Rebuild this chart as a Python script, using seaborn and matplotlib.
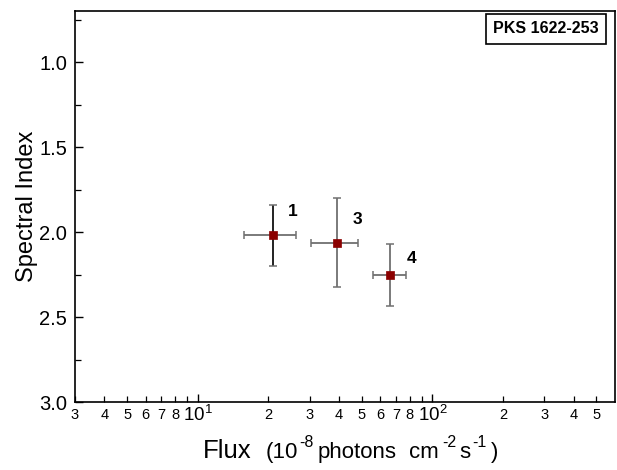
import matplotlib
matplotlib.use("Agg")
import matplotlib.pyplot as plt
import seaborn as sns
import numpy as np
import pandas as pd
from matplotlib.ticker import FixedLocator, FixedFormatter

# ---- data ----
labels = ["1", "3", "4"]
flux = [21.0, 39.2, 66.2]
flux_lo = [15.8, 30.4, 55.6]
flux_hi = [26.2, 48.0, 77.1]
index = [2.02, 2.063, 2.254]
index_lo = [1.84, 1.80, 2.072]
index_hi = [2.20, 2.325, 2.433]
source_name = "PKS 1622-253"
major_xticks = [10, 100]
major_xlabels = ["$10^{1}$", "$10^{2}$"]
minor_xticks = [3, 4, 5, 6, 7, 8, 9, 20, 30, 40, 50, 60, 70, 80, 90, 200, 300, 400, 500]
minor_xlabels = ["3", "4", "5", "6", "7", "8", "", "2", "3", "4", "5", "6", "7", "8", "", "2", "3", "4", "5"]
yticks = [1.0, 1.5, 2.0, 2.5, 3.0]
ytick_labels = ["1.0", "1.5", "2.0", "2.5", "3.0"]
yminor = [0.75, 1.25, 1.75, 2.25, 2.75]
ylabel = "Spectral Index"
# x label pieces: (text, is_superscript)
xlabel_pieces = [("Flux", False), ("(10", False), ("-8", True), ("photons", False),
                 ("cm", False), ("-2", True), ("s", False), ("-1", True), (")", False)]

df = pd.DataFrame({"flux": flux, "index": index, "label": labels})

sns.set_style("ticks")
plt.rcParams["font.family"] = ["Liberation Sans", "DejaVu Sans"]
plt.rcParams["mathtext.fontset"] = "custom"
plt.rcParams["mathtext.rm"] = "Liberation Sans"
plt.rcParams["mathtext.it"] = "Liberation Sans:italic"
plt.rcParams["mathtext.bf"] = "Liberation Sans:bold"
plt.rcParams["mathtext.default"] = "regular"
for k in ["text.color", "axes.labelcolor", "xtick.color", "ytick.color", "axes.edgecolor"]:
    plt.rcParams[k] = "black"

W, H = 617, 470
fig = plt.figure(figsize=(W / 100, H / 100), dpi=100)
ax = fig.add_axes([75/W, 68/H, 540/W, 391/H])

xerr = np.array([np.array(flux) - np.array(flux_lo), np.array(flux_hi) - np.array(flux)])
yerr = np.array([np.array(index) - np.array(index_lo), np.array(index_hi) - np.array(index)])
eb = ax.errorbar(flux, index, xerr=xerr, yerr=yerr, fmt="none", ecolor="#707070",
                 elinewidth=1.3, capsize=2.8, capthick=1.1, zorder=2)
for cl in eb[1]:
    cl.set_color("black")
vcol = eb[2][1]
vcol.set_color(["#111111", "#707070", "#707070"])

sns.scatterplot(data=df, x="flux", y="index", marker="s", color="#8B0000",
                s=38, edgecolor="#8B0000", linewidth=0.5, ax=ax, zorder=3, legend=False)

offsets = [(19, 24), (21, 23), (21, 17)]
for lab, x, y, off in zip(labels, flux, index, offsets):
    ax.annotate(lab, (x, y), xytext=off, textcoords="offset pixels",
                ha="center", va="center", fontsize=12.5, fontweight="bold", color="black")

ax.set_xscale("log")
ax.set_xlim(3, 600)
ax.set_ylim(3.0, 0.70)

ax.xaxis.set_major_locator(FixedLocator(major_xticks))
ax.xaxis.set_major_formatter(FixedFormatter(major_xlabels))
ax.xaxis.set_minor_locator(FixedLocator(minor_xticks))
ax.xaxis.set_minor_formatter(FixedFormatter(minor_xlabels))
ax.set_yticks(yticks)
ax.set_yticklabels(ytick_labels)
ax.set_yticks(yminor, minor=True)

ax.tick_params(axis="x", which="major", direction="in", length=6, width=1.0,
               labelsize=13.5, pad=2, top=False)
ax.tick_params(axis="x", which="minor", direction="in", length=4, width=0.9,
               labelsize=10.5, pad=4, top=False)
ax.tick_params(axis="y", which="major", direction="in", length=6, width=1.0,
               labelsize=14.5, pad=5.5, right=False)
ax.tick_params(axis="y", which="minor", direction="in", length=4, width=0.9, right=False)

for sp in ax.spines.values():
    sp.set_visible(True)
    sp.set_linewidth(1.2)
    sp.set_color("black")

ax.set_xlabel("")
ax.set_ylabel(ylabel, fontsize=17, labelpad=1)

# x label built from pieces (chained left to right) so superscripts match the reference
piece_size = [18.5, 16, 11.5, 16, 16, 11.5, 16, 11.5, 16]
piece_gap = [14, 1, 4, 13, 3, 3, 2, 4, 0]
base_main = 458
base_sup = 447
renderer = fig.canvas.get_renderer()
cur_x = 203
for (txt, sup), fs, gap in zip(xlabel_pieces, piece_size, piece_gap):
    by = base_sup if sup else base_main
    t = fig.text(cur_x / W, (H - by) / H, txt, fontsize=fs, ha="left", va="baseline")
    bb = t.get_window_extent(renderer=renderer)
    cur_x = bb.x1 + gap

ax.text(0.872, 0.954, source_name, transform=ax.transAxes, fontsize=11.5,
        fontweight="bold", ha="center", va="center",
        bbox=dict(boxstyle="square,pad=0.45", facecolor="white", edgecolor="black", linewidth=1.2))

fig.savefig("out.png", dpi=100)
